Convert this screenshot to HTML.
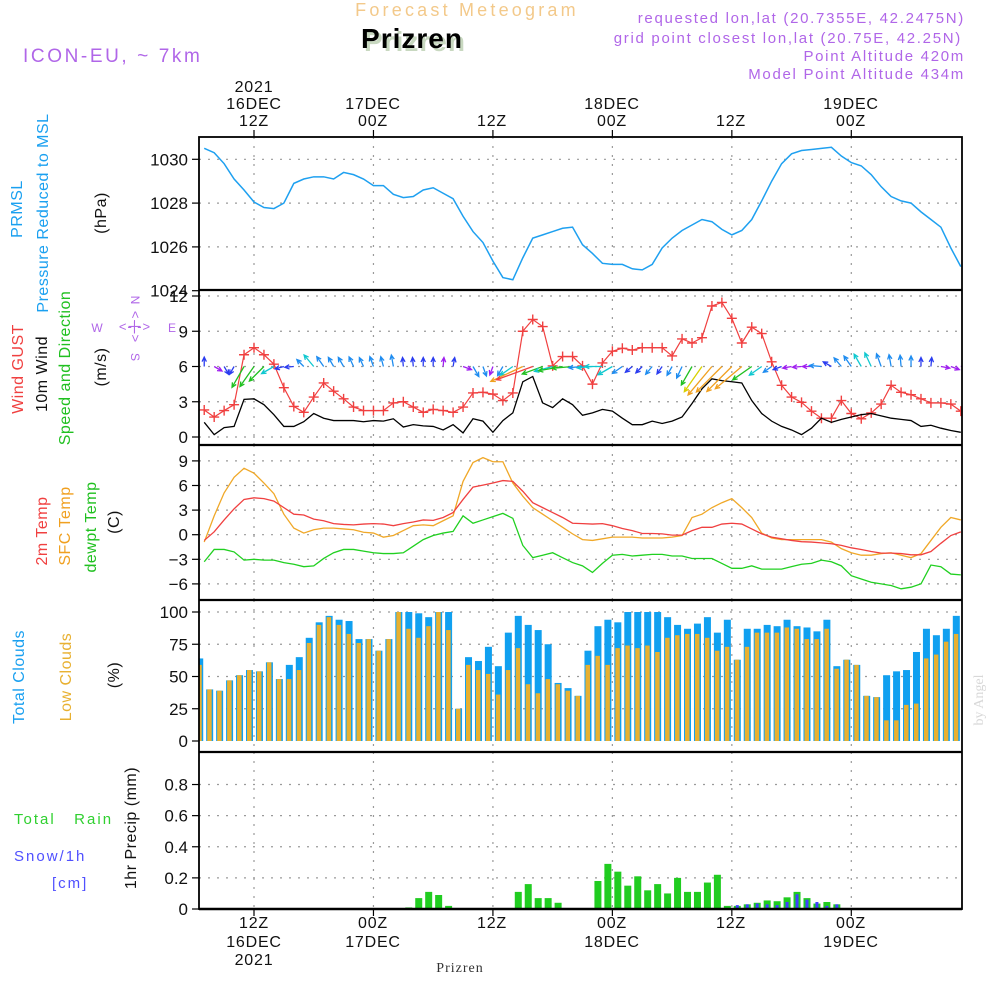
<!DOCTYPE html>
<html><head><meta charset="utf-8"><title>Prizren Meteogram</title>
<style>
html,body{margin:0;padding:0;background:#fff;}
svg{display:block;font-family:"Liberation Sans",sans-serif;}
</style></head>
<body>
<svg id="chart" width="1000" height="1000" viewBox="0 0 1000 1000" xmlns="http://www.w3.org/2000/svg">
<defs>
<clipPath id="cp1"><rect x="199" y="137" width="763" height="153"/></clipPath>
<clipPath id="cp2"><rect x="199" y="290" width="763" height="155"/></clipPath>
<clipPath id="cp3"><rect x="199" y="445" width="763" height="155"/></clipPath>
<clipPath id="cp4"><rect x="199" y="600" width="763" height="152"/></clipPath>
<clipPath id="cp5"><rect x="199" y="752" width="763" height="157"/></clipPath>
</defs>
<text x="467" y="16" text-anchor="middle" font-size="18" fill="#f3c98a" letter-spacing="3.2">Forecast Meteogram</text>
<text x="415" y="51" text-anchor="middle" font-size="28" font-weight="bold" fill="#c8d8c0" letter-spacing="1">Prizren</text>
<text x="412" y="48" text-anchor="middle" font-size="28" font-weight="bold" fill="#000" letter-spacing="1">Prizren</text>
<text x="23" y="62" font-size="19" fill="#b066e8" letter-spacing="2.6">ICON-EU, ~ 7km</text>
<g font-size="15" fill="#b066e8" text-anchor="end" letter-spacing="1.7">
<text x="965" y="23">requested lon,lat (20.7355E, 42.2475N)</text>
<text x="962" y="43">grid point closest lon,lat (20.75E, 42.25N)</text>
<text x="965" y="61">Point Altitude 420m</text>
<text x="965" y="79">Model Point Altitude 434m</text>
</g>
<g font-size="16" fill="#111" text-anchor="middle" letter-spacing="0.8">
<text x="254" y="92">2021</text>
<text x="254" y="109">16DEC</text><text x="254" y="126">12Z</text>
<text x="373" y="109">17DEC</text><text x="373" y="126">00Z</text>
<text x="492" y="126">12Z</text>
<text x="612" y="109">18DEC</text><text x="612" y="126">00Z</text>
<text x="731" y="126">12Z</text>
<text x="851" y="109">19DEC</text><text x="851" y="126">00Z</text>
</g>
<g font-size="16" fill="#111" text-anchor="middle" letter-spacing="0.8">
<text x="254" y="928">12Z</text><text x="254" y="947">16DEC</text><text x="254" y="965">2021</text>
<text x="373" y="928">00Z</text><text x="373" y="947">17DEC</text>
<text x="492" y="928">12Z</text>
<text x="612" y="928">00Z</text><text x="612" y="947">18DEC</text>
<text x="731" y="928">12Z</text>
<text x="851" y="928">00Z</text><text x="851" y="947">19DEC</text>
</g>
<text x="460" y="972" text-anchor="middle" font-size="14" font-family="Liberation Serif, serif" fill="#333" letter-spacing="1">Prizren</text>
<text transform="translate(983,700) rotate(-90)" text-anchor="middle" font-size="14" font-family="Liberation Serif, serif" fill="#d8d8d8">by Angel</text>

<g font-size="16" text-anchor="middle" letter-spacing="0.5">
<text transform="translate(22,209) rotate(-90)" fill="#1aa0f0">PRMSL</text>
<text transform="translate(48,213) rotate(-90)" fill="#1aa0f0">Pressure Reduced to MSL</text>
<text transform="translate(106,213) rotate(-90)" fill="#111">(hPa)</text>
<text transform="translate(23,369) rotate(-90)" fill="#f04040">Wind GUST</text>
<text transform="translate(47,374) rotate(-90)" fill="#111">10m Wind</text>
<text transform="translate(70,368) rotate(-90)" fill="#20c020">Speed and Direction</text>
<text transform="translate(106,367) rotate(-90)" fill="#111">(m/s)</text>
<text transform="translate(47,531) rotate(-90)" fill="#f04040">2m Temp</text>
<text transform="translate(70,526) rotate(-90)" fill="#f0a020">SFC Temp</text>
<text transform="translate(96,527) rotate(-90)" fill="#20c020">dewpt Temp</text>
<text transform="translate(119,522) rotate(-90)" fill="#111">(C)</text>
<text transform="translate(24,677) rotate(-90)" fill="#1aa0f0">Total Clouds</text>
<text transform="translate(71,677) rotate(-90)" fill="#e8b030">Low Clouds</text>
<text transform="translate(119,675) rotate(-90)" fill="#111">(%)</text>
<text transform="translate(136,828) rotate(-90)" fill="#111">1hr Precip (mm)</text>
</g>
<g font-size="15" letter-spacing="2">
<text x="14" y="824" fill="#30d030">Total&#160;&#160;&#160;Rain</text>
<text x="14" y="861" fill="#5050ff">Snow/1h</text>
<text x="52" y="888" fill="#5050ff">[cm]</text>
</g>
<g fill="#b066e8" font-size="12" text-anchor="middle">
<text x="97" y="332">W</text><text x="172" y="332">E</text>
<text transform="translate(131,300) rotate(90)" text-anchor="middle">N</text>
<text transform="translate(131,357) rotate(90)" text-anchor="middle">S</text>
<text x="135" y="331" font-size="13" letter-spacing="1">&lt;-|-&gt;</text>
<text transform="translate(131,327) rotate(90)" font-size="13" letter-spacing="1" text-anchor="middle">&lt;-|-&gt;</text>
</g>
<g id="plots"></g>
</svg>
<script>
// ---- data (index 0 = 07Z 16DEC, hourly) ----
const pressure = [1030.5,1030.3,1029.8,1029.1,1028.6,1028.05,1027.8,1027.75,1028.0,1028.9,1029.1,1029.2,1029.2,1029.1,1029.4,1029.3,1029.1,1028.8,1028.8,1028.4,1028.25,1028.3,1028.6,1028.7,1028.45,1028.2,1027.4,1026.7,1026.2,1025.35,1024.6,1024.5,1025.5,1026.4,1026.55,1026.7,1026.85,1026.9,1026.1,1025.7,1025.25,1025.2,1025.2,1025.0,1024.95,1025.2,1025.95,1026.4,1026.75,1027.0,1027.25,1027.15,1026.8,1026.55,1026.75,1027.25,1028.1,1029.0,1029.8,1030.25,1030.4,1030.45,1030.5,1030.55,1030.15,1029.85,1029.7,1029.3,1028.75,1028.3,1028.1,1028.0,1027.6,1027.25,1026.9,1025.95,1025.1];
const gust = [2.3,1.7,2.25,2.75,7.0,7.6,7.0,6.2,4.2,2.6,2.1,3.4,4.6,3.9,3.25,2.55,2.25,2.25,2.25,2.9,3.0,2.55,2.1,2.35,2.25,2.1,2.55,3.75,3.8,3.65,3.1,3.75,9.0,10.0,9.4,6.05,6.85,6.85,6.05,4.5,6.3,7.3,7.55,7.4,7.6,7.6,7.6,6.9,8.35,8.0,8.45,11.15,11.45,10.1,8.0,9.35,8.8,6.4,4.4,3.4,2.95,2.2,1.6,1.6,3.1,2.0,1.55,2.05,2.8,4.4,3.8,3.6,3.25,2.9,2.9,2.8,2.2];
const wind10 = [1.25,0.2,0.8,0.9,3.2,3.25,2.75,1.9,0.9,0.9,1.3,2.0,1.6,1.4,1.4,1.4,1.3,1.4,1.35,1.55,0.85,1.05,0.95,0.9,0.6,1.05,0.35,1.55,1.35,0.4,1.4,2.05,4.7,5.15,2.9,2.5,3.25,2.75,1.85,2.05,2.35,2.2,1.6,1.05,1.05,1.35,1.15,1.35,1.7,2.85,4.1,4.95,4.8,4.7,4.6,3.1,2.0,1.35,0.9,0.6,0.2,0.75,1.6,1.25,1.5,1.7,1.9,2.0,1.8,1.6,1.5,1.4,0.9,1.0,0.75,0.55,0.4];
const windArrowDir = [90,-30,-60,240,240,235,225,210,195,185,135,130,125,120,120,115,115,110,105,100,95,95,90,90,85,80,-20,-60,-70,250,240,215,205,200,200,195,190,185,185,185,180,210,215,220,225,230,235,240,245,240,235,230,225,225,220,215,215,215,200,190,185,180,175,150,130,125,120,115,110,100,95,90,90,85,-10,-20,10];
const temp2m = [-0.7,0.35,1.8,3.15,4.3,4.5,4.4,4.1,3.3,2.5,2.4,1.9,1.7,1.35,1.25,1.2,1.3,1.35,1.3,1.1,1.35,1.55,1.8,1.75,2.1,2.7,4.3,5.8,6.05,6.3,6.6,6.5,5.3,3.9,3.3,2.7,2.1,1.4,1.35,1.3,1.35,1.1,0.75,0.5,0.15,0.15,0.1,-0.05,-0.05,0.5,0.9,0.9,1.3,1.4,1.3,0.7,0.1,-0.3,-0.5,-0.7,-0.85,-0.9,-1.0,-1.1,-1.3,-1.6,-1.8,-2.05,-2.25,-2.25,-2.3,-2.45,-2.45,-2.05,-1.05,-0.1,0.35];
const tempSfc = [-0.9,2.3,5.1,7.0,8.1,7.5,6.3,5.0,2.5,0.8,0.2,0.6,0.8,0.8,0.7,0.6,0.3,0.2,-0.3,-0.1,0.5,1.1,1.2,1.1,1.7,2.3,6.5,8.8,9.4,8.9,8.9,6.3,4.7,3.3,2.5,1.7,0.9,0.1,-0.6,-0.7,-0.5,-0.3,-0.3,-0.3,-0.4,-0.4,-0.4,-0.3,-0.1,2.1,2.5,3.3,3.9,4.4,3.3,2.1,0.2,-0.4,-0.6,-0.6,-0.6,-0.6,-0.6,-0.9,-1.7,-2.2,-2.5,-2.5,-2.3,-2.2,-2.5,-2.8,-2.3,-0.7,0.9,2.1,1.8];
const tempDew = [-3.3,-1.8,-1.8,-2.1,-3.1,-3.0,-3.1,-3.1,-3.4,-3.6,-3.9,-3.8,-2.9,-2.2,-1.8,-1.8,-2.0,-2.2,-2.3,-2.3,-2.2,-1.4,-0.6,-0.1,0.2,0.4,2.3,1.4,1.8,2.2,2.6,2.0,-1.3,-2.8,-2.5,-2.2,-2.8,-3.4,-3.8,-4.6,-3.5,-2.5,-2.4,-2.6,-2.5,-2.4,-2.4,-2.6,-2.6,-2.9,-2.9,-2.9,-3.5,-4.1,-4.1,-3.8,-4.2,-4.2,-4.2,-3.9,-3.6,-3.5,-3.1,-3.3,-3.8,-5.0,-5.4,-5.8,-6.0,-6.2,-6.6,-6.4,-6.0,-3.7,-3.9,-4.8,-4.9];
const cloudTotal = [64,40,39,47,51,55,54,61,48,59,65,80,92,97,94,93,79,79,70,79,100,100,99,96,100,100,25,65,62,73,58,84,97,90,86,75,45,41,35,70,89,94,92,100,100,100,100,96,90,87,91,96,84,94,63,87,87,90,89,94,89,88,85,94,58,63,59,35,34,51,54,55,69,87,82,87,97];
const cloudLow = [59,40,39,47,51,55,54,61,48,48,55,76,90,96,90,83,76,79,70,79,100,87,80,89,100,86,25,59,55,52,36,55,72,44,37,48,44,39,35,59,66,59,72,74,72,74,69,80,82,83,83,80,70,73,63,73,84,84,84,88,87,79,79,87,56,63,59,35,34,16,16,28,29,64,67,77,83];
const rain = [0,0,0,0,0,0,0,0,0,0,0,0,0,0,0,0,0,0,0,0,0,0.01,0.07,0.11,0.09,0.02,0.005,0,0,0,0,0,0.11,0.16,0.07,0.07,0.04,0,0,0,0.18,0.29,0.24,0.15,0.21,0.12,0.16,0.10,0.20,0.11,0.11,0.17,0.22,0.02,0.02,0.03,0.04,0.055,0.05,0.075,0.11,0.07,0.035,0.045,0.03,0,0,0,0,0,0,0,0,0,0,0,0];
const snow = [0,0,0,0,0,0,0,0,0,0,0,0,0,0,0,0,0,0,0,0,0,0,0,0,0,0,0,0,0,0,0,0,0,0,0,0,0,0,0,0,0,0,0,0,0,0,0,0,0,0,0,0,0,0.005,0.025,0.03,0.035,0.03,0.025,0.045,0.095,0.06,0.045,0.02,0.03,0,0,0,0,0,0,0,0,0,0,0,0];
const pressTicks = [1024,1026,1028,1030];
const windTicks = [0,3,6,9,12];
const tempTicks = [-6,-3,0,3,6,9];
const cloudTicks = [0,25,50,75,100];
const precipTicks = [0,0.2,0.4,0.6,0.8];
const timeGridHours = [0,12,24,36,48,60];
const firstHour = -5; // hours relative to 12Z 16DEC

// ---- axes ----
const NS = "http://www.w3.org/2000/svg";
const L = 199, R = 962;
const xH = h => 254 + h * 9.955;
const xI = i => xH(i + firstHour);
const yP = v => 159.3 - (v - 1030) * 21.9;
const yW = v => 437 - v * 11.75;
const yT = v => 534.7 - v * 8.2;
const yC = v => 741 - v * 1.29;
const yR = v => 909 - v * 155.6;
const root = document.getElementById('plots');
function mk(tag, attrs, parent) {
  const e = document.createElementNS(NS, tag);
  for (const k in attrs) e.setAttribute(k, attrs[k]);
  (parent || root).appendChild(e);
  return e;
}
function group(name, clip) {
  const g = mk('g', clip ? {'clip-path': 'url(#' + clip + ')'} : {});
  
  
  return g;
}
const panels = [
  {top:137, bot:290, ticks:pressTicks, y:yP, fmt:v=>String(v), grid:[1026,1028,1030], name:'pressure'},
  {top:290, bot:445, ticks:windTicks, y:yW, fmt:v=>String(v), grid:[0,3,6,9,12], name:'wind'},
  {top:445, bot:600, ticks:tempTicks, y:yT, fmt:v=>(v<0?'\u2212'+(-v):String(v)), grid:tempTicks, name:'temp'},
  {top:600, bot:752, ticks:cloudTicks, y:yC, fmt:v=>String(v), grid:[25,50,75,100], name:'cloud'},
  {top:752, bot:909, ticks:precipTicks, y:yR, fmt:v=>(v===0?'0':v.toFixed(1)), grid:[0.2,0.4,0.6,0.8], name:'precip'}
];
panels.forEach((p, pi) => {
  const gg = group(p.name + '-grid', 'cp' + (pi + 1));
  p.grid.forEach(v => {
    const ln = mk('line', {x1:L, x2:R, y1:p.y(v), y2:p.y(v), stroke:'#9a9a9a', 'stroke-width':1.2, 'stroke-dasharray':'2 7'}, gg);
    
    
  });
  timeGridHours.forEach(h => {
    const ln = mk('line', {x1:xH(h), x2:xH(h), y1:p.top, y2:p.bot, stroke:'#9a9a9a', 'stroke-width':1.2, 'stroke-dasharray':'2 7'}, gg);
    
    
  });
  const ag = group(p.name + '-y-axis');
  p.ticks.forEach(v => {
    const yy = p.y(v);
    mk('line', {x1:192, x2:L, y1:yy, y2:yy, stroke:'#000', 'stroke-width':1.2}, ag);
    const t = mk('text', {x:188, y:yy + 6, 'text-anchor':'end', 'font-size':17, fill:'#111'}, ag);
    t.textContent = p.fmt(v);
    
    
  });
});

// ---- pressure ----
const g1 = group('pressure-series', 'cp1');
const pl = mk('polyline', {points: pressure.map((v,i)=>xI(i)+','+yP(v)).join(' '), fill:'none', stroke:'#1ea0f0', 'stroke-width':1.5}, g1);



// ---- wind ----
const g2 = group('wind-series', 'cp2');
const gl = mk('polyline', {points: gust.map((v,i)=>xI(i)+','+yW(v)).join(' '), fill:'none', stroke:'#f04040', 'stroke-width':1.2}, g2);


gust.forEach((v,i) => {
  const x = xI(i), y = yW(v);
  const m = mk('path', {d:'M'+(x-5)+' '+y+'H'+(x+5)+'M'+x+' '+(y-5)+'V'+(y+5), stroke:'#f04040', 'stroke-width':1.4}, g2);
  
  
});
const wl = mk('polyline', {points: wind10.map((v,i)=>xI(i)+','+yW(v)).join(' '), fill:'none', stroke:'#000', 'stroke-width':1.3}, g2);


function windColor(s) {
  if (s < 0.8) return '#a020f0';
  if (s < 1.3) return '#2a3cf0';
  if (s < 1.9) return '#1e8cf0';
  if (s < 2.6) return '#10c8d0';
  if (s < 3.6) return '#20c020';
  if (s < 4.3) return '#d8d000';
  if (s < 5.0) return '#f0a020';
  return '#f04040';
}
windArrowDir.forEach((a,i) => {
  const s = wind10[i];
  const len = Math.max(9, s * 7.5);
  const r = a * Math.PI / 180;
  const x0 = xI(i), y0 = yW(6);
  const x1 = x0 + len * Math.cos(r), y1 = y0 - len * Math.sin(r);
  const h1 = r + Math.PI - 0.45, h2 = r + Math.PI + 0.45;
  const d = 'M'+x0+' '+y0+'L'+x1+' '+y1+'M'+(x1+5*Math.cos(h1))+' '+(y1-5*Math.sin(h1))+'L'+x1+' '+y1+'L'+(x1+5*Math.cos(h2))+' '+(y1-5*Math.sin(h2));
  const ar = mk('path', {d:d, fill:'none', stroke:windColor(s), 'stroke-width':1.3}, g2);
  
  
});

// ---- temperature ----
const g3 = group('temperature-series', 'cp3');
[[tempDew,'#20d020','dewpoint-line'],[tempSfc,'#f0a828','sfc-temp-line'],[temp2m,'#f04040','temp2m-line']].forEach(s => {
  const l = mk('polyline', {points: s[0].map((v,i)=>xI(i)+','+yT(v)).join(' '), fill:'none', stroke:s[1], 'stroke-width':1.3}, g3);
  
  
});

// ---- clouds ----
const g4 = group('cloud-series', 'cp4');
cloudTotal.forEach((v,i) => {
  const left = xI(i) - 8;
  const b = mk('rect', {x:left, y:yC(v), width:7, height:yC(0)-yC(v), fill:'#10a0f0'}, g4);
  
  
  const lv = cloudLow[i];
  const o = mk('rect', {x:left+1, y:yC(lv), width:4.5, height:yC(0)-yC(lv), fill:'#e8b030'}, g4);
  
  
});

// ---- precipitation ----
const g5 = group('precip-series', 'cp5');
rain.forEach((v,i) => {
  if (v <= 0) return;
  const b = mk('rect', {x:xI(i)-8, y:yR(v), width:7, height:yR(0)-yR(v), fill:'#20cc20'}, g5);
  
  
});
snow.forEach((v,i) => {
  if (v <= 0) return;
  const b = mk('rect', {x:xI(i)-6, y:yR(v), width:3, height:yR(0)-yR(v), fill:'#4040ff'}, g5);
  
  
});

// ---- frames and time ticks ----
const fr = group('panel-frames');
mk('rect', {x:L, y:137, width:R-L, height:909-137, fill:'none', stroke:'#000', 'stroke-width':1.8}, fr);
[290,445,600,752].forEach(y => {
  const ln = mk('line', {x1:L, x2:R, y1:y, y2:y, stroke:'#000', 'stroke-width':2.2}, fr);
  
  
});
mk('line', {x1:L, x2:R, y1:909, y2:909, stroke:'#000', 'stroke-width':2.5}, fr);
timeGridHours.forEach(h => {
  const t1 = mk('line', {x1:xH(h), x2:xH(h), y1:130, y2:137, stroke:'#000', 'stroke-width':1.2}, fr);
  
  
  const t2 = mk('line', {x1:xH(h), x2:xH(h), y1:909, y2:916, stroke:'#000', 'stroke-width':1.2}, fr);
  
  
});
</script>
</body></html>
